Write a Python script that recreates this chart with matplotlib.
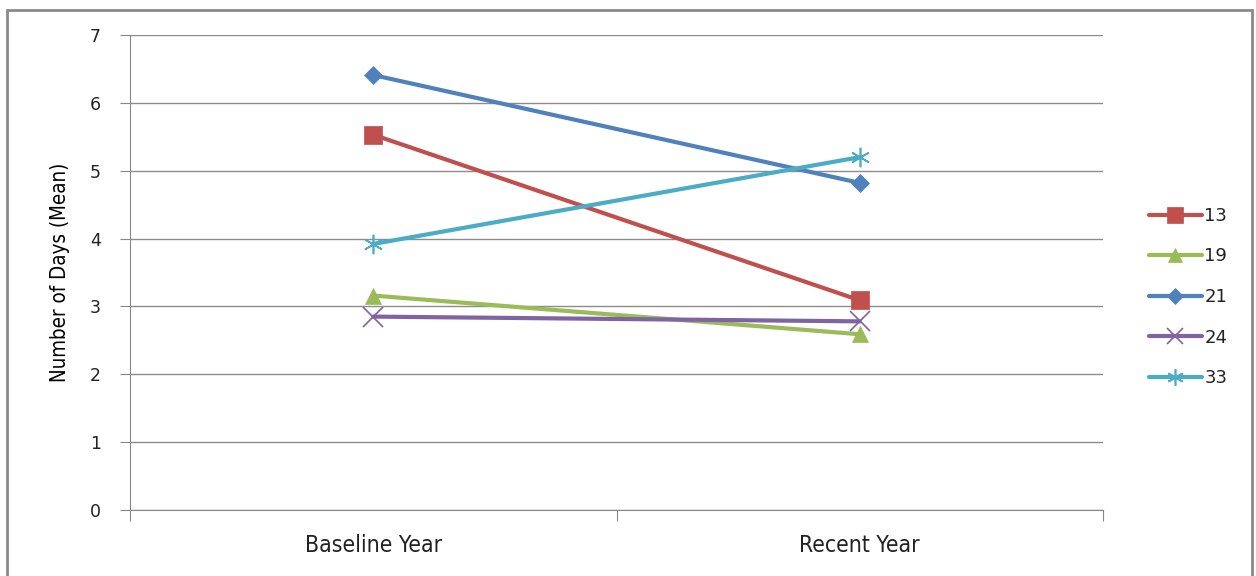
import matplotlib
matplotlib.use("Agg")
from matplotlib import pyplot as plt
from matplotlib.patches import Rectangle

categories = ["Baseline Year", "Recent Year"]
series_names = ["13", "19", "21", "24", "33"]
values_13 = [5.53, 3.09]
values_19 = [3.16, 2.59]
values_21 = [6.41, 4.82]
values_24 = [2.85, 2.78]
values_33 = [3.92, 5.20]

colors = ["#C0504D", "#9BBB59", "#4F81BD", "#8064A2", "#4BACC6"]
markers = ["s", "^", "D", "x", (6, 2, 0)]
msizes = [13, 12, 9, 14, 14]

fig = plt.figure(figsize=(12.56, 5.76), dpi=100)
ax = fig.add_axes([130 / 1256, 66 / 576, 973 / 1256, 475 / 576])

xs = list(range(len(categories)))
all_values = [values_13, values_19, values_21, values_24, values_33]
for name, vals, c, m, ms in zip(series_names, all_values, colors, markers, msizes):
    thin = m in ("x",) or isinstance(m, tuple)
    ax.plot(xs, vals, color=c, lw=3, marker=m, markersize=ms,
            markeredgewidth=1.2 if thin else 0.5, markeredgecolor=c,
            markerfacecolor=c, label=name, solid_capstyle="round", zorder=3)

narrow = dict(family="DejaVu Sans", fontstretch="condensed")

ax.set_xlim(-0.5, 1.5)
ax.set_ylim(0, 7)
ax.set_yticks(range(0, 8))
ax.set_xticks([-0.5, 0.5, 1.5])
ax.set_xticklabels([])
ax.set_xticks(xs, minor=True)
ax.set_xticklabels(categories, minor=True, fontstretch="condensed", color="#222222")
ax.tick_params(axis="x", which="minor", length=0, pad=17, labelsize=16.5)
ax.tick_params(axis="x", which="major", length=8, color="#888888", direction="out")
ax.tick_params(axis="y", length=7, color="#888888", labelsize=12.5, pad=14,
               labelcolor="#222222")
ax.grid(axis="y", color="#8C8C8C", lw=1)
ax.set_axisbelow(True)
for s in ["top", "right"]:
    ax.spines[s].set_visible(False)
for s in ["left", "bottom"]:
    ax.spines[s].set_color("#888888")
ax.set_ylabel("Number of Days (Mean)", fontsize=14.8, labelpad=14, **narrow)

leg = fig.legend(loc="center left", bbox_to_anchor=(1142 / 1256, 1 - 297 / 576),
                 frameon=False, fontsize=13, handlelength=2.9, labelspacing=1.25,
                 handletextpad=0.15, borderaxespad=0, markerscale=0.85)
for t in leg.get_texts():
    t.set_color("#222222")

fig.patches.append(Rectangle((7 / 1256, -0.05), 1245 / 1256, 1.05 - 10 / 576,
                             transform=fig.transFigure, fill=False,
                             edgecolor="#8A8A8A", lw=2))

fig.savefig("out.png", dpi=100)
